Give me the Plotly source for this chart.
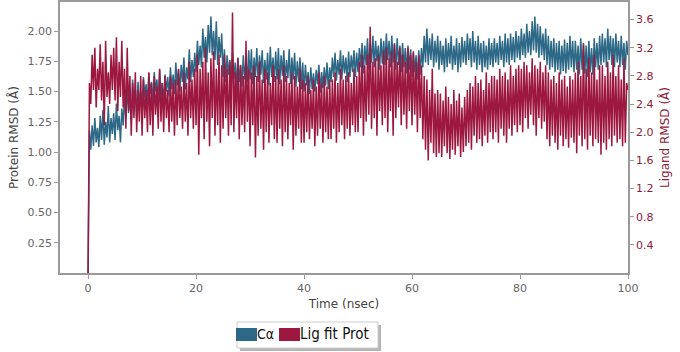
import numpy as np
import plotly.graph_objects as go

ca_rmsd = [
    0.0, 1.18, 1.02, 1.22, 1.05, 1.28, 1.08, 1.20, 1.04, 1.30, 1.10, 1.35, 1.06, 1.25, 1.12, 1.38, 1.08, 1.28, 1.15, 1.32,
    1.10, 1.40, 1.18, 1.30, 1.08, 1.36, 1.22, 1.45, 1.28, 1.55, 1.32, 1.48, 1.26, 1.60, 1.38, 1.52, 1.30, 1.58, 1.40, 1.50,
    1.36, 1.62, 1.45, 1.56, 1.40, 1.65, 1.48, 1.58, 1.38, 1.66, 1.50, 1.60, 1.42, 1.68, 1.46, 1.57, 1.40, 1.64, 1.50, 1.62,
    1.46, 1.70, 1.52, 1.64, 1.48, 1.74, 1.55, 1.68, 1.50, 1.72, 1.58, 1.78, 1.52, 1.70, 1.60, 1.85, 1.58, 1.76, 1.62, 1.82,
    1.66, 1.92, 1.72, 1.88, 1.70, 2.02, 1.78, 1.95, 1.74, 2.05, 1.82, 2.12, 1.80, 2.00, 1.76, 2.08, 1.72, 1.95, 1.78, 1.98,
    1.62, 1.85, 1.58, 1.80, 1.64, 1.76, 1.55, 1.82, 1.60, 1.74, 1.52, 1.78, 1.58, 1.72, 1.54, 1.80, 1.60, 1.76, 1.58, 1.84,
    1.60, 1.85, 1.56, 1.78, 1.62, 1.86, 1.58, 1.80, 1.64, 1.84, 1.57, 1.76, 1.60, 1.82, 1.55, 1.87, 1.62, 1.78, 1.58, 1.83,
    1.60, 1.86, 1.56, 1.80, 1.63, 1.84, 1.58, 1.76, 1.61, 1.85, 1.56, 1.78, 1.60, 1.82, 1.54, 1.75, 1.58, 1.78, 1.52, 1.74,
    1.50, 1.72, 1.55, 1.66, 1.48, 1.70, 1.52, 1.65, 1.50, 1.68, 1.56, 1.72, 1.49, 1.66, 1.53, 1.70, 1.55, 1.74, 1.52, 1.70,
    1.58, 1.78, 1.62, 1.82, 1.59, 1.76, 1.64, 1.84, 1.60, 1.80, 1.65, 1.78, 1.58, 1.83, 1.62, 1.80, 1.66, 1.84, 1.62, 1.82,
    1.66, 1.86, 1.70, 1.90, 1.65, 1.88, 1.72, 1.94, 1.68, 1.90, 1.74, 1.96, 1.70, 1.92, 1.75, 1.88, 1.68, 1.94, 1.73, 1.92,
    1.72, 1.98, 1.76, 1.92, 1.70, 1.96, 1.74, 1.90, 1.68, 1.94, 1.72, 1.88, 1.66, 1.90, 1.70, 1.86, 1.65, 1.88, 1.68, 1.85,
    1.62, 1.82, 1.66, 1.80, 1.60, 1.84, 1.64, 1.86, 1.70, 1.96, 1.74, 2.02, 1.72, 1.94, 1.76, 1.98, 1.70, 1.92, 1.74, 1.96,
    1.68, 1.92, 1.72, 1.88, 1.66, 1.94, 1.70, 1.90, 1.73, 1.96, 1.68, 1.88, 1.72, 1.94, 1.66, 1.90, 1.70, 1.95, 1.74, 1.92,
    1.72, 1.98, 1.76, 1.94, 1.70, 2.00, 1.74, 1.92, 1.68, 1.96, 1.72, 1.90, 1.66, 1.92, 1.70, 1.88, 1.68, 1.94, 1.72, 1.90,
    1.70, 1.94, 1.74, 1.90, 1.72, 1.96, 1.76, 1.92, 1.70, 1.98, 1.74, 1.94, 1.72, 1.98, 1.76, 1.95, 1.74, 2.00, 1.78, 1.96,
    1.76, 2.02, 1.80, 1.98, 1.78, 2.06, 1.82, 2.00, 1.80, 2.08, 1.84, 2.12, 1.82, 2.06, 1.78, 2.04, 1.80, 1.98, 1.76, 2.02,
    1.72, 1.96, 1.68, 1.92, 1.70, 1.94, 1.66, 1.90, 1.68, 1.92, 1.64, 1.88, 1.67, 1.93, 1.65, 1.90, 1.68, 1.96, 1.70, 1.92,
    1.66, 1.92, 1.68, 1.88, 1.64, 1.94, 1.68, 1.90, 1.65, 1.88, 1.62, 1.92, 1.66, 1.86, 1.64, 1.94, 1.70, 1.90, 1.68, 1.96,
    1.72, 1.98, 1.74, 1.94, 1.70, 2.02, 1.76, 1.96, 1.72, 1.94, 1.70, 1.98, 1.74, 1.92, 1.70, 1.96, 1.72, 1.90, 1.68, 1.92,
    1.80,
]

lig_rmsd = [
    0.0, 2.7, 2.4, 3.1, 2.6, 3.2, 2.35, 2.9, 2.6, 3.25, 2.45, 3.0, 2.1, 3.3, 2.5, 2.85, 2.4, 3.1, 2.6, 3.2,
    2.45, 3.35, 2.3, 3.0, 2.5, 3.3, 2.35, 2.9, 2.05, 3.2, 2.3, 2.8, 1.95, 2.7, 2.2, 2.85, 2.0, 2.6, 2.15, 2.8,
    1.95, 2.75, 2.2, 2.6, 2.0, 2.85, 2.1, 2.7, 1.95, 2.8, 2.25, 2.65, 2.05, 2.9, 2.15, 2.7, 2.0, 2.8, 2.2, 2.6,
    2.0, 2.8, 2.15, 2.7, 1.95, 2.75, 2.1, 2.9, 2.2, 2.65, 2.05, 2.85, 2.15, 2.7, 1.95, 3.0, 2.2, 2.75, 2.05, 2.9,
    2.1, 3.1, 1.68, 2.9, 2.2, 3.0, 1.9, 3.2, 2.15, 2.85, 1.8, 3.05, 2.2, 3.15, 1.95, 2.9, 2.1, 3.1, 1.85, 2.95,
    2.05, 3.1, 2.2, 2.9, 1.95, 3.0, 2.1, 3.7, 2.0, 2.85, 2.2, 3.05, 1.9, 2.95, 2.1, 2.8, 2.0, 3.3, 2.15, 2.9,
    1.8, 2.85, 2.1, 2.95, 1.64, 2.8, 1.95, 3.0, 2.05, 2.75, 1.75, 2.9, 2.0, 2.85, 1.85, 2.7, 2.1, 2.95, 1.9, 2.8,
    1.85, 2.9, 2.05, 2.75, 1.8, 2.95, 2.0, 2.8, 1.9, 2.7, 2.1, 2.85, 1.75, 2.8, 1.95, 2.65, 2.05, 2.9, 1.85, 2.75,
    1.85, 2.7, 2.0, 2.8, 1.9, 2.6, 2.05, 2.75, 1.8, 2.65, 1.95, 2.85, 2.05, 2.7, 1.85, 2.8, 2.0, 2.65, 1.9, 2.75,
    1.9, 2.75, 2.05, 2.85, 1.85, 2.7, 2.0, 2.9, 2.1, 2.75, 1.9, 2.8, 2.05, 2.85, 1.95, 2.7, 2.1, 2.9, 2.0, 2.8,
    2.0, 3.0, 2.2, 3.1, 1.95, 2.95, 2.15, 3.1, 2.25, 3.5, 2.05, 3.0, 2.2, 3.05, 1.95, 3.1, 2.3, 2.95, 2.1, 3.15,
    2.2, 3.2, 2.0, 3.05, 2.3, 3.15, 1.95, 3.25, 2.2, 3.0, 2.35, 3.2, 2.1, 3.1, 2.25, 3.0, 2.05, 3.2, 2.3, 3.1,
    2.1, 3.15, 2.25, 3.0, 2.0, 3.1, 2.2, 2.95, 1.9, 2.8, 1.75, 2.75, 1.6, 2.6, 1.85, 2.9, 1.7, 2.55, 1.65, 2.6,
    1.7, 2.55, 1.65, 2.45, 1.8, 2.65, 1.7, 2.5, 1.62, 2.4, 1.75, 2.6, 1.68, 2.45, 1.8, 2.55, 1.65, 2.35, 1.72, 2.5,
    1.8, 2.6, 1.85, 2.7, 1.75, 2.65, 1.95, 2.8, 1.85, 2.7, 1.9, 2.75, 1.8, 2.6, 1.95, 2.85, 1.85, 2.7, 2.0, 2.8,
    1.9, 2.8, 2.0, 2.75, 1.85, 2.9, 2.05, 2.8, 1.95, 2.85, 1.85, 2.75, 2.05, 2.95, 1.95, 2.8, 2.1, 2.9, 2.0, 2.95,
    2.1, 2.9, 2.0, 3.0, 2.2, 2.95, 2.05, 2.85, 2.25, 3.05, 2.1, 2.95, 1.95, 2.9, 2.2, 3.0, 2.05, 2.85, 2.15, 2.95,
    1.9, 2.85, 1.8, 2.75, 1.95, 2.8, 1.85, 2.7, 1.75, 2.85, 1.95, 2.75, 1.8, 2.8, 1.9, 2.65, 1.78, 2.8, 1.92, 2.75,
    1.85, 2.85, 1.7, 3.0, 1.95, 2.8, 1.8, 3.25, 1.9, 2.9, 1.75, 3.05, 1.95, 2.85, 1.8, 3.1, 1.9, 2.75, 1.85, 2.95,
    1.68, 2.95, 1.85, 2.8, 1.75, 3.0, 1.9, 2.85, 1.8, 3.1, 1.95, 2.8, 1.85, 2.95, 1.9, 2.75, 1.8, 3.05, 1.85, 2.7,
    2.6,
]

time_ns = np.arange(0, 100.25, 0.25)
assert len(ca_rmsd) == len(time_ns), len(ca_rmsd)
assert len(lig_rmsd) == len(time_ns), len(lig_rmsd)

x_ticks = [0, 20, 40, 60, 80, 100]
left_ticks = [0.25, 0.50, 0.75, 1.00, 1.25, 1.50, 1.75, 2.00]
left_labels = ["0.25", "0.50", "0.75", "1.00", "1.25", "1.50", "1.75", "2.00"]
right_ticks = [0.4, 0.8, 1.2, 1.6, 2.0, 2.4, 2.8, 3.2, 3.6]
right_labels = ["0.4", "0.8", "1.2", "1.6", "2.0", "2.4", "2.8", "3.2", "3.6"]
legend_names = ["C\u03b1", "Lig fit Prot"]

BLUE = "#2d6987"
RED = "#9d1840"
GREY = "#666666"
AXIS = "#9a9a9a"

fig = go.Figure()
fig.add_trace(go.Scatter(x=time_ns, y=ca_rmsd, mode="lines", name=legend_names[0],
                         line=dict(color=BLUE, width=1.5, simplify=False), yaxis="y", showlegend=False))
fig.add_trace(go.Scatter(x=time_ns, y=lig_rmsd, mode="lines", name=legend_names[1],
                         line=dict(color=RED, width=1.5, simplify=False), yaxis="y2", showlegend=False))

W, H = 680, 352
L, R, T, B = 60, 52, 2, 79
pw, ph = W - L - R, H - T - B

def px(x):
    return (x - L) / pw

def py(y):
    return (H - B - y) / ph

shapes = []
shapes.append(dict(type="rect", xref="paper", yref="paper",
                   x0=px(240), x1=px(381), y0=py(351), y1=py(325),
                   fillcolor="#b5b5b5", line=dict(width=0), layer="above"))
shapes.append(dict(type="rect", xref="paper", yref="paper",
                   x0=px(237), x1=px(378), y0=py(348), y1=py(322),
                   fillcolor="white", line=dict(color="#cccccc", width=1), layer="above"))
shapes.append(dict(type="rect", xref="paper", yref="paper",
                   x0=px(236), x1=px(257), y0=py(341), y1=py(328),
                   fillcolor=BLUE, line=dict(width=0), layer="above"))
shapes.append(dict(type="rect", xref="paper", yref="paper",
                   x0=px(279), x1=px(300), y0=py(341), y1=py(328),
                   fillcolor=RED, line=dict(width=0), layer="above"))

LEG_FONT = "DejaVu Sans Condensed, DejaVu Sans, sans-serif"
annotations = [
    dict(text=legend_names[0], xref="paper", yref="paper", x=px(255), y=py(334),
         xanchor="left", yanchor="middle", showarrow=False,
         font=dict(family=LEG_FONT, size=14, color="#111111")),
    dict(text=legend_names[1], xref="paper", yref="paper", x=px(298), y=py(334),
         xanchor="left", yanchor="middle", showarrow=False,
         font=dict(family=LEG_FONT, size=15, color="#111111")),
]

fig.update_layout(
    width=W, height=H,
    margin=dict(l=L, r=R, t=T, b=B, autoexpand=False),
    paper_bgcolor="white", plot_bgcolor="white",
    font=dict(family="DejaVu Sans", size=11, color=GREY),
    showlegend=False,
    xaxis=dict(range=[-5.2, 100], tickvals=x_ticks, ticks="outside", ticklen=4,
               tickcolor=AXIS, showline=True, linecolor=AXIS, linewidth=1.5,
               mirror=True, showgrid=False, zeroline=False, automargin=False,
               tickfont=dict(size=11, color=GREY),
               title=dict(text="Time (nsec)", font=dict(size=12, color="#444444"), standoff=6)),
    yaxis=dict(range=[0, 2.24], tickvals=left_ticks, ticktext=left_labels,
               ticks="outside", ticklen=4, tickcolor=AXIS, showline=True,
               linecolor=AXIS, linewidth=1.5, showgrid=False, zeroline=False,
               automargin=False, tickfont=dict(size=11, color=GREY),
               title=dict(text="Protein RMSD (\u00c5)", font=dict(size=12, color="#444444"), standoff=6)),
    yaxis2=dict(range=[0, 3.85], tickvals=right_ticks, ticktext=right_labels,
                overlaying="y", side="right", ticks="outside", ticklen=4,
                tickcolor=AXIS, showline=True, linecolor=AXIS, linewidth=1.5,
                showgrid=False, zeroline=False, automargin=False,
                tickfont=dict(size=11, color="#8c1a3b"),
                title=dict(text="Ligand RMSD (\u00c5)", font=dict(size=12, color="#8c1a3b"), standoff=8)),
    shapes=shapes,
    annotations=annotations,
)

fig.write_html("out.html", config={"displayModeBar": False},
               post_script="document.body.style.margin='0';")
